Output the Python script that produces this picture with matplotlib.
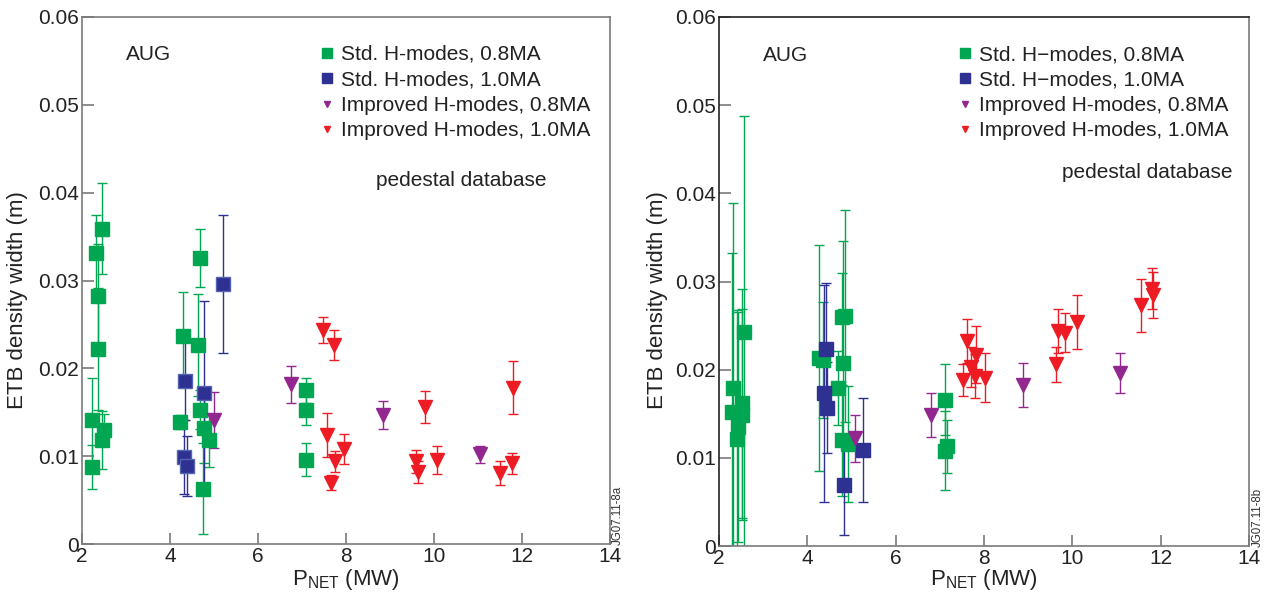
import matplotlib
matplotlib.use("Agg")
import matplotlib.pyplot as plt
from matplotlib.lines import Line2D

plt.rcParams['font.family'] = ['Liberation Sans', 'DejaVu Sans']
plt.rcParams['mathtext.default'] = 'regular'

# --- panel a (left) ---
a_std08_x = [2.23, 2.23, 2.31, 2.37, 2.37, 2.46, 2.46, 2.50,
             4.30, 4.23, 4.68, 4.64, 4.68, 4.77, 4.89, 4.76,
             7.08, 7.10, 7.08]
a_std08_y = [0.0088, 0.0141, 0.0331, 0.0282, 0.0222, 0.0359, 0.0118, 0.0130,
             0.0237, 0.0139, 0.0326, 0.0227, 0.0153, 0.0132, 0.0118, 0.0063,
             0.0175, 0.0153, 0.0096]
a_std08_e = [0.0025, 0.0048, 0.0044, 0.0060, 0.0070, 0.0052, 0.0033, 0.0018,
             0.0050, 0.0008, 0.0033, 0.0058, 0.0022, 0.0040, 0.0030, 0.0052,
             0.0014, 0.0018, 0.0019]

a_std10_x = [4.33, 4.31, 4.39, 4.78, 5.21]
a_std10_y = [0.0186, 0.0099, 0.0089, 0.0172, 0.0296]
a_std10_e = [0.0045, 0.0042, 0.0034, 0.0105, 0.0079]

a_imp08_x = [5.01, 6.75, 8.83, 11.05]
a_imp08_y = [0.0141, 0.0182, 0.0147, 0.0102]
a_imp08_e = [0.0032, 0.0021, 0.0016, 0.0010]

a_imp10_x = [7.47, 7.73, 7.57, 7.95, 7.75, 7.65, 9.58, 9.63, 9.79, 10.06, 11.79, 11.50, 11.77]
a_imp10_y = [0.0244, 0.0227, 0.0124, 0.0108, 0.0094, 0.0070, 0.0094, 0.0082, 0.0156, 0.0096, 0.0178, 0.0081, 0.0092]
a_imp10_e = [0.0015, 0.0017, 0.0025, 0.0017, 0.0012, 0.0008, 0.0013, 0.0013, 0.0018, 0.0016, 0.0030, 0.0014, 0.0012]

# --- panel b (right) ---
b_std08_x = [2.29, 2.31, 2.40, 2.44, 2.53, 2.53, 2.57,
             4.27, 4.36, 4.70, 4.78, 4.85, 4.81, 4.78, 4.93,
             7.12, 7.17, 7.12]
b_std08_y = [0.0152, 0.0179, 0.0121, 0.0135, 0.0162, 0.0149, 0.0243,
             0.0213, 0.0211, 0.0179, 0.0260, 0.0261, 0.0208, 0.0120, 0.0116,
             0.0166, 0.0113, 0.0108]
b_std08_e = [0.0180, 0.0210, 0.0147, 0.0130, 0.0130, 0.0120, 0.0245,
             0.0128, 0.0066, 0.0042, 0.0050, 0.0120, 0.0138, 0.0063, 0.0066,
             0.0040, 0.0030, 0.0045]

b_std10_x = [4.42, 4.38, 4.45, 4.84, 5.27]
b_std10_y = [0.0224, 0.0173, 0.0157, 0.0069, 0.0109]
b_std10_e = [0.0074, 0.0123, 0.0052, 0.0057, 0.0059]

b_imp08_x = [5.08, 6.81, 8.89, 11.09]
b_imp08_y = [0.0122, 0.0149, 0.0183, 0.0196]
b_imp08_e = [0.0027, 0.0025, 0.0025, 0.0023]

b_imp10_x = [7.62, 7.81, 7.70, 7.80, 7.52, 8.03, 9.63, 9.68, 9.83, 10.11, 11.55, 11.80, 11.82]
b_imp10_y = [0.0233, 0.0217, 0.0203, 0.0193, 0.0188, 0.0191, 0.0206, 0.0244, 0.0242, 0.0254, 0.0273, 0.0292, 0.0285]
b_imp10_e = [0.0025, 0.0032, 0.0023, 0.0025, 0.0018, 0.0028, 0.0020, 0.0025, 0.0022, 0.0031, 0.0030, 0.0023, 0.0026]

x_ticks = [2, 4, 6, 8, 10, 12, 14]
y_ticks = [0, 0.01, 0.02, 0.03, 0.04, 0.05, 0.06]
y_ticklabels = ['0', '0.01', '0.02', '0.03', '0.04', '0.05', '0.06']

labels_a = ['Std. H-modes, 0.8MA', 'Std. H-modes, 1.0MA',
            'Improved H-modes, 0.8MA', 'Improved H-modes, 1.0MA']
labels_b = ['Std. H\u2212modes, 0.8MA', 'Std. H\u2212modes, 1.0MA',
            'Improved H-modes, 0.8MA', 'Improved H-modes, 1.0MA']

GREEN = '#00A651'
BLUE = '#2E3192'
PURPLE = '#92278F'
RED = '#ED1C24'
GRAY = '#7a7a7a'
TEXT = '#222222'

fig = plt.figure(figsize=(12.73, 6.03), dpi=100)
W, H = 1273, 603
ax_a = fig.add_axes([82 / W, (H - 544) / H, 528 / W, 527 / H])
ax_b = fig.add_axes([719 / W, (H - 546) / H, 530 / W, 529 / H])


def draw(ax, series, labels, spine_dark):
    for (xs, ys, es, col, mk, ms, mec) in series:
        ax.errorbar(xs, ys, yerr=es, fmt=mk, color=col, ms=ms, mec=mec,
                    ecolor=col, elinewidth=1.0, capsize=3.3, capthick=1.0)
    ax.set_xlim(2, 14)
    ax.set_ylim(0, 0.06)
    ax.set_xticks(x_ticks)
    ax.set_yticks(y_ticks)
    ax.set_yticklabels(y_ticklabels)
    ax.tick_params(direction='in', labelsize=15, color=GRAY, width=1.2, pad=2.5,
                   labelcolor=TEXT)
    ax.tick_params(axis='y', length=8.5)
    ax.tick_params(axis='x', length=8)
    for side in ['left', 'right', 'top', 'bottom']:
        ax.spines[side].set_color(GRAY)
        ax.spines[side].set_linewidth(1.2)
    if spine_dark:
        ax.spines['left'].set_color(TEXT)
        ax.spines['top'].set_color(TEXT)

    handles = [
        Line2D([], [], ls='none', marker='s', ms=6.5, color=GREEN),
        Line2D([], [], ls='none', marker='s', ms=6.5, color=BLUE),
        Line2D([], [], ls='none', marker='v', ms=5, color=PURPLE),
        Line2D([], [], ls='none', marker='v', ms=5, color=RED),
    ]
    leg = ax.legend(handles, labels, loc='upper left', bbox_to_anchor=(0.448, 0.947),
                    frameon=False, fontsize=15, handlelength=0.8, handletextpad=0.3,
                    labelspacing=0.31, borderpad=0, borderaxespad=0)
    for t in leg.get_texts():
        t.set_color(TEXT)
    ax.text(0.083, 0.928, 'AUG', transform=ax.transAxes, fontsize=15,
            ha='left', va='center', color=TEXT)


draw(ax_a, [
    (a_std08_x, a_std08_y, a_std08_e, GREEN, 's', 10.5, GREEN),
    (a_std10_x, a_std10_y, a_std10_e, BLUE, 's', 10.5, '#5564b0'),
    (a_imp08_x, a_imp08_y, a_imp08_e, PURPLE, 'v', 10, PURPLE),
    (a_imp10_x, a_imp10_y, a_imp10_e, RED, 'v', 10, RED),
], labels_a, False)

draw(ax_b, [
    (b_std08_x, b_std08_y, b_std08_e, GREEN, 's', 10.5, GREEN),
    (b_std10_x, b_std10_y, b_std10_e, BLUE, 's', 10.5, BLUE),
    (b_imp08_x, b_imp08_y, b_imp08_e, PURPLE, 'v', 10, PURPLE),
    (b_imp10_x, b_imp10_y, b_imp10_e, RED, 'v', 10, RED),
], labels_b, True)

fig.text(461 / W, 1 - 180 / H, 'pedestal database', fontsize=15,
         ha='center', va='center', color=TEXT)
fig.text(1232 / W, 1 - 172 / H, 'pedestal database', fontsize=15,
         ha='right', va='center', color=TEXT)

# axis labels
for cx, cy in [(18, 300), (657, 300)]:
    fig.text(cx / W, 1 - cy / H, 'ETB density width (m)', fontsize=16,
             rotation=90, ha='center', va='center', color=TEXT)
for cx in [346, 984]:
    fig.text(cx / W, 1 - 580 / H, 'P$_{NET}$ (MW)', fontsize=16,
             ha='center', va='center', color=TEXT)

# figure reference codes
fig.text(618 / W, 1 - 545 / H, 'JG07.11-8a', fontsize=8.3, rotation=90,
         ha='center', va='bottom', color='#333333')
fig.text(1258 / W, 1 - 547 / H, 'JG07.11-8b', fontsize=8.3, rotation=90,
         ha='center', va='bottom', color='#333333')

fig.savefig('out.png', dpi=100)
